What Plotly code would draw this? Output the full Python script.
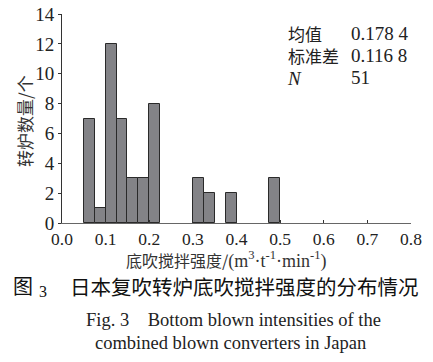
import plotly.graph_objects as go

bin_left = [0.05, 0.075, 0.10, 0.125, 0.15, 0.175, 0.20, 0.30, 0.325, 0.375, 0.475]
counts = [7, 1, 12, 7, 3, 3, 8, 3, 2, 2, 3]
bin_width = 0.025
x_ticks = [0.0, 0.1, 0.2, 0.3, 0.4, 0.5, 0.6, 0.7, 0.8]
y_ticks = [0, 2, 4, 6, 8, 10, 12, 14]
stat_names = ["均值", "标准差", "<span style='font-family:Liberation Serif;font-size:19px'><i>N</i></span>"]
stat_values = ["0.178 4", "0.116 8", "51"]

SERIF = "Liberation Serif, Times New Roman, serif"
CJK = "Noto Sans CJK SC"

fig = go.Figure()
fig.add_trace(go.Bar(
    x=bin_left, y=counts, width=[bin_width] * len(counts), offset=0,
    marker=dict(color="#838387", line=dict(color="#2a2a2a", width=1)),
    hoverinfo="skip",
))

W, H = 433, 362
L, R, T, B = 62, 22, 14, 139

fig.update_layout(
    width=W, height=H,
    margin=dict(l=L, r=R, t=T, b=B, autoexpand=False),
    paper_bgcolor="white", plot_bgcolor="white",
    showlegend=False, bargap=0,
    xaxis=dict(range=[0, 0.8], tickvals=x_ticks, ticktext=[f"{v:.1f}" for v in x_ticks],
               showline=True, linecolor="#666", linewidth=1, ticks="inside", ticklen=3,
               tickcolor="#333", showgrid=False, zeroline=False, automargin=False,
               tickfont=dict(family=SERIF, size=17.5, color="#222")),
    yaxis=dict(range=[0, 14], tickvals=y_ticks, showline=True, linecolor="#333", linewidth=1,
               ticks="outside", ticklen=3, tickcolor="#333", showgrid=False, zeroline=False,
               automargin=False, tickfont=dict(family=SERIF, size=19, color="#222")),
)

def px(xp, yp, xanchor="center"):
    return dict(xref="paper", yref="paper", xanchor=xanchor, yanchor="middle",
                x=(xp - L) / (W - L - R), y=1 - (yp - T) / (H - T - B),
                showarrow=False, borderpad=0)

ann = []
# y-axis title
ann.append(dict(**px(24, 121), text="转炉数量/个", textangle=-90,
                font=dict(family=CJK, size=17, color="#333")))
# stats (one block per column so the rows share the line spacing)
ann.append(dict(**px(286, 55, "left"), text="<br>".join(stat_names), align="left",
                font=dict(family=CJK, size=17, color="#222")))
ann.append(dict(**px(350, 55, "left"), align="left",
                text="<br>".join(f"<span style='font-size:19px'>{v}</span>" for v in stat_values),
                font=dict(family=SERIF, size=17, color="#222")))
# x-axis title
x_title = ("底吹搅拌强度/<span style='font-family:Liberation Serif;font-size:18px'>"
           "(m<sup>3</sup>·t<sup>-1</sup>·min<sup>-1</sup>)</span>")
ann.append(dict(**px(226, 259.5), text=x_title,
                font=dict(family=CJK, size=16, color="#333")))
# captions
ann.append(dict(**px(12, 285.5, "left"), text="图",
                font=dict(family=CJK, size=20, color="#111")))
ann.append(dict(**px(38, 291, "left"), text="3",
                font=dict(family=SERIF, size=16, color="#111")))
ann.append(dict(**px(69, 285.5, "left"), text="日本复吹转炉底吹搅拌强度的分布情况",
                font=dict(family=CJK, size=20.5, color="#111")))
ann.append(dict(**px(233, 320), text="Fig. 3 &nbsp;&nbsp;&nbsp;Bottom blown intensities of the",
                font=dict(family=SERIF, size=18.5, color="#222")))
ann.append(dict(**px(230, 343), text="combined blown converters in Japan",
                font=dict(family=SERIF, size=18.5, color="#222")))
fig.update_layout(annotations=ann)

fig.write_html("out.html", config={"displayModeBar": False},
               post_script="document.body.style.margin='0';")
